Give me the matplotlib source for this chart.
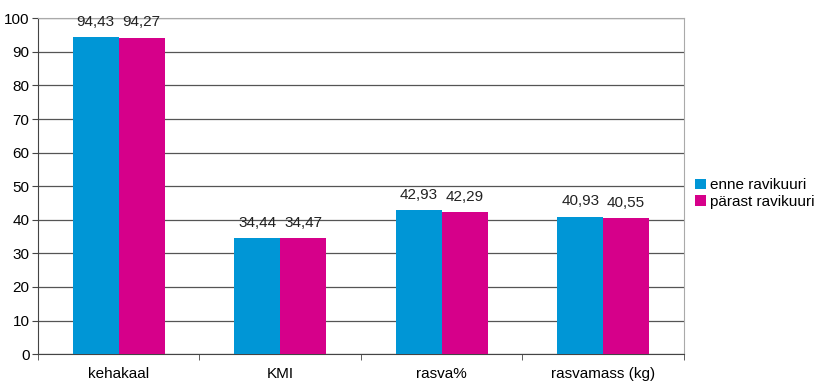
import numpy as np
import matplotlib.pyplot as plt

plt.rcParams['font.family'] = ['Liberation Sans', 'DejaVu Sans']

# Andmed
categories = ['kehakaal', 'KMI', 'rasva%', 'rasvamass (kg)']
enne = [94.43, 34.44, 42.93, 40.93]
parast = [94.27, 34.47, 42.29, 40.55]
series_names = ['enne ravikuuri', 'pärast ravikuuri']
colors = ['#0096d6', '#d6008a']

fs = 11

fig = plt.figure(figsize=(8.25, 3.82), dpi=100)
ax = fig.add_axes([0.046, 0.073, 0.783, 0.879])

x = np.arange(len(categories))
w = 0.284
b1 = ax.bar(x - w / 2, enne, w, color=colors[0], label=series_names[0], zorder=3)
b2 = ax.bar(x + w / 2, parast, w, color=colors[1], label=series_names[1], zorder=3)

for bars, vals in [(b1, enne), (b2, parast)]:
    for r, v in zip(bars, vals):
        ax.annotate(f'{v:.2f}'.replace('.', ','), (r.get_x() + r.get_width() / 2, v),
                    xytext=(0, 11), textcoords='offset points',
                    ha='center', va='center', fontsize=fs, color='#222222', zorder=4)

ax.set_xlim(-0.5, len(categories) - 0.5)
ax.set_ylim(0, 100)
ax.set_yticks(np.arange(0, 101, 10))
ax.yaxis.grid(True, color='#555555', linewidth=0.9, zorder=0)
ax.set_xticks(x)
ax.set_xticklabels(categories, fontsize=fs)
ax.set_xticks(np.arange(-0.5, len(categories)), minor=True)
ax.tick_params(axis='x', which='major', length=0, pad=9)
ax.tick_params(axis='x', which='minor', length=4, color='#444444')
ax.tick_params(axis='y', length=4, color='#444444', labelsize=fs, pad=2)

for s in ['left', 'bottom']:
    ax.spines[s].set_color('#444444')
for s in ['top', 'right']:
    ax.spines[s].set_color('#aaaaaa')

ax.legend(loc='center left', bbox_to_anchor=(1.008, 0.478), frameon=False,
          fontsize=fs, handlelength=0.7, handleheight=0.7, handletextpad=0.25,
          labelspacing=0.15, borderaxespad=0)

plt.savefig('out.png', dpi=100)
